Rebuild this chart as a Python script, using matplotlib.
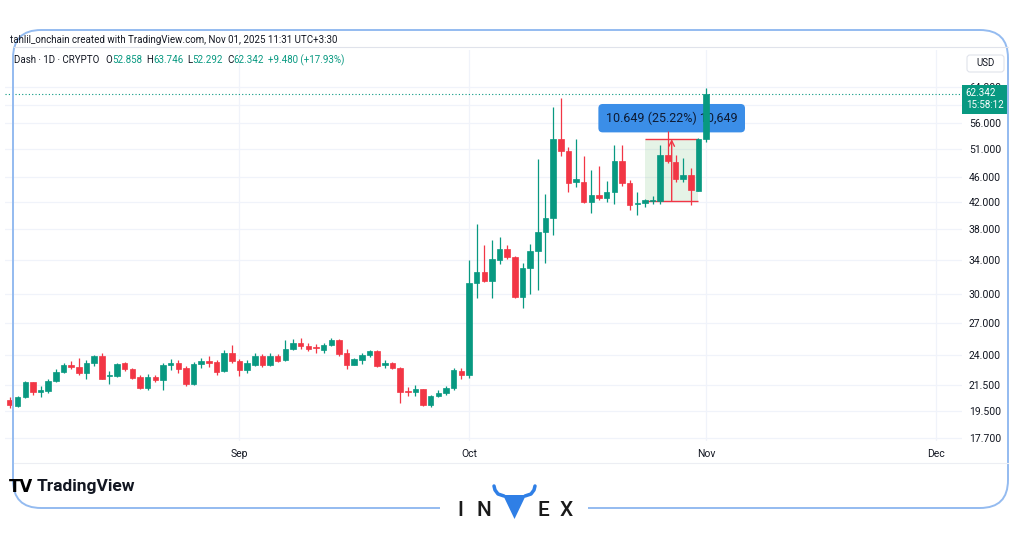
import numpy as np
import pandas as pd
import matplotlib
matplotlib.use("Agg")
import matplotlib.pyplot as plt
import matplotlib.dates as mdates
import matplotlib.transforms as mtransforms
from matplotlib.patches import FancyBboxPatch, Rectangle, Polygon
from matplotlib.ticker import NullLocator

plt.rcParams['font.family'] = ['Roboto', 'DejaVu Sans']

UP = '#089981'
DOWN = '#f23645'
TEXT = '#131722'
GRID = '#f0f3fa'
FRAME = '#94bbf0'

# Dash / USD daily candles (CRYPTO), 2 Aug - 1 Nov 2025
dates = pd.date_range('2025-08-02', periods=92, freq='D')
opens = [20.33, 19.93, 20.55, 21.70, 20.97, 21.00, 21.80, 22.50, 23.14, 22.95,
         22.45, 23.30, 23.85, 22.22, 22.20, 23.25, 22.80, 22.15, 21.22, 22.15,
         21.88, 23.12, 23.25, 22.85, 21.58, 23.17, 23.49, 23.40, 22.60, 24.19,
         23.49, 22.70, 23.10, 23.90, 23.15, 23.90, 23.55, 24.50, 25.04, 24.80,
         24.65, 24.43, 24.85, 25.34, 24.20, 23.15, 23.55, 24.00, 24.30, 23.10,
         23.25, 22.85, 21.00, 20.97, 21.14, 19.96, 20.60, 20.90, 21.25, 22.60,
         22.30, 31.20, 32.50, 31.45, 34.00, 35.35, 34.40, 29.70, 33.00, 35.05,
         37.60, 39.55, 53.00, 50.60, 45.20, 45.24, 42.00, 43.10, 42.60, 43.60,
         48.80, 45.05, 41.65, 41.90, 42.22, 42.20, 49.90, 48.60, 45.65, 46.40,
         43.80, 52.858]
highs = [20.55, 20.63, 21.80, 21.75, 21.38, 21.97, 22.82, 23.30, 23.49, 23.70,
         23.55, 23.95, 24.15, 22.65, 23.30, 23.35, 22.85, 22.30, 22.35, 22.30,
         23.25, 23.60, 23.55, 23.00, 23.35, 23.70, 23.90, 23.55, 24.40, 24.90,
         23.60, 23.55, 24.15, 24.05, 24.20, 24.05, 25.35, 25.40, 25.50, 25.10,
         24.98, 25.04, 25.50, 25.40, 24.50, 23.75, 24.15, 24.45, 24.45, 23.55,
         23.35, 22.93, 21.35, 21.50, 21.18, 20.70, 21.09, 21.38, 22.83, 22.83,
         34.00, 38.70, 35.90, 36.60, 36.95, 35.90, 34.50, 33.55, 36.00, 49.20,
         43.20, 59.40, 61.40, 51.40, 52.90, 49.80, 47.30, 48.00, 45.30, 51.80,
         51.80, 45.60, 43.60, 42.50, 42.90, 51.80, 54.40, 49.90, 49.30, 47.60,
         53.10, 63.746]
lows = [19.74, 19.85, 20.50, 20.70, 20.55, 20.90, 21.70, 22.45, 22.80, 22.30,
        22.00, 23.00, 21.95, 21.55, 22.15, 22.65, 22.00, 21.15, 21.10, 21.75,
        21.10, 22.70, 22.45, 21.42, 21.50, 22.90, 22.95, 22.30, 22.50, 23.25,
        22.20, 22.45, 23.00, 22.98, 23.07, 23.40, 23.50, 24.40, 24.50, 24.30,
        24.15, 24.15, 24.77, 23.90, 22.80, 23.10, 23.20, 23.80, 22.95, 22.90,
        22.76, 20.15, 20.63, 20.60, 19.88, 19.83, 20.55, 20.70, 21.10, 21.95,
        22.05, 29.60, 31.30, 29.60, 33.50, 34.10, 29.60, 28.50, 30.00, 30.40,
        33.60, 37.20, 49.70, 43.50, 44.35, 41.90, 40.30, 42.30, 42.00, 41.70,
        44.60, 40.80, 40.00, 41.30, 41.70, 41.70, 48.40, 45.20, 45.20, 41.50,
        43.70, 52.292]
closes = [19.96, 20.55, 21.70, 20.93, 21.09, 21.84, 22.50, 23.14, 22.95, 22.45,
          23.30, 23.85, 22.00, 22.30, 23.20, 22.75, 22.05, 21.22, 22.15, 21.88,
          23.10, 23.25, 22.80, 21.58, 23.17, 23.49, 23.30, 22.57, 24.19, 23.49,
          22.70, 23.27, 23.90, 23.10, 23.90, 23.50, 24.50, 25.04, 24.80, 24.50,
          24.57, 24.90, 25.34, 24.10, 23.15, 23.60, 24.00, 24.30, 23.02, 23.25,
          22.83, 20.97, 20.92, 21.14, 19.96, 20.60, 20.90, 21.25, 22.66, 22.30,
          31.20, 32.50, 31.45, 34.10, 35.35, 34.40, 29.70, 33.00, 35.05, 37.60,
          39.55, 53.00, 50.60, 45.10, 45.65, 42.00, 43.10, 42.55, 43.60, 48.80,
          45.05, 41.60, 41.90, 42.30, 42.30, 49.90, 48.75, 45.65, 46.40, 43.90,
          52.86, 62.342]

# 60.000 sits under the last-price tag, so it gets a grid line but no label
price_ticks = [17.7, 19.5, 21.5, 24.0, 27.0, 30.0, 34.0, 38.0, 42.0, 46.0,
               51.0, 56.0, 60.0, 64.0]
hidden_ticks = [60.0]
month_ticks = pd.to_datetime(['2025-09-01', '2025-10-01', '2025-11-01', '2025-12-01'])
month_labels = ['Sep', 'Oct', 'Nov', 'Dec']

# price range drawing
measure_from = 42.220
measure_to = 52.869
measure_start = pd.Timestamp('2025-10-24')
measure_end = pd.Timestamp('2025-10-31')

title_line = 'tahlil_onchain created with TradingView.com, Nov 01, 2025 11:31 UTC+3:30'
symbol_line = 'Dash \u00b7 1D \u00b7 CRYPTO'
last_time = '15:58:12'

W, H = 1024, 538
fig = plt.figure(figsize=(W / 100, H / 100), dpi=100)
fig.patch.set_facecolor('white')

ax = fig.add_axes([5 / W, 1 - 441 / H, (962 - 5) / W, (441 - 50) / H])
ax.set_facecolor('white')

x = mdates.date2num(dates)
o = np.array(opens)
h = np.array(highs)
l = np.array(lows)
c = np.array(closes)
colors = np.where(c >= o, UP, DOWN)

ax.vlines(x, l, h, colors=colors, lw=0.9, zorder=4)
body_lo = np.minimum(o, c)
body_hi = np.maximum(o, c)
ax.bar(x, body_hi - body_lo, bottom=body_lo, width=0.72, color=colors,
       edgecolor=colors, linewidth=0.5, zorder=5)

ax.set_yscale('log')
ax.set_ylim(17.5, 73.3)
ax.set_xlim(x[0] - 0.65, x[0] + 124.45)
ax.yaxis.set_minor_locator(NullLocator())
ax.xaxis.set_minor_locator(NullLocator())
ax.yaxis.tick_right()
ax.set_yticks(price_ticks)
ax.set_yticklabels(['' if v in hidden_ticks else f'{v:.3f}' for v in price_ticks])
ax.set_xticks(mdates.date2num(month_ticks))
ax.set_xticklabels(month_labels)
ax.tick_params(axis='both', length=0, labelsize=7.5, labelcolor=TEXT)
ax.tick_params(axis='y', pad=5)
ax.tick_params(axis='x', pad=6)
ax.grid(True, color=GRID, lw=0.9, zorder=0)
ax.set_axisbelow(True)
for s in ax.spines.values():
    s.set_visible(False)

# last price line + label
ax.axhline(closes[-1], color=UP, lw=0.8, ls=(0, (1, 2)), zorder=3)
off = mtransforms.offset_copy(ax.get_yaxis_transform(), fig=fig, x=0, y=-5, units='dots')
ax.text(1.004, closes[-1], f'{closes[-1]:.3f}\n{last_time}', transform=off,
        ha='left', va='center', fontsize=7, color='white', linespacing=1.25,
        bbox=dict(boxstyle='square,pad=0.35', fc=UP, ec='none'),
        clip_on=False, zorder=10)

# price range tool
xm0 = mdates.date2num(measure_start)
xm1 = mdates.date2num(measure_end)
xmid = (xm0 + xm1) / 2
ax.add_patch(Rectangle((xm0, measure_from), xm1 - xm0, measure_to - measure_from,
                       fc='#4caf50', alpha=0.14, ec='none', zorder=2))
ax.hlines([measure_from, measure_to], xm0, xm1, colors=DOWN, lw=1, zorder=3)
ax.annotate('', xy=(xmid, measure_to), xytext=(xmid, measure_from),
            arrowprops=dict(arrowstyle='->', color=DOWN, lw=1, shrinkA=0, shrinkB=0),
            zorder=3)
diff = measure_to - measure_from
pct = diff / measure_from * 100
ax.text(xmid, measure_to * 1.08, f'{diff:.3f} ({pct:.2f}%) {diff * 1000:,.0f}',
        ha='center', va='center', fontsize=9, color='#0e1b33',
        bbox=dict(boxstyle='round,pad=0.6,rounding_size=0.35', fc='#3b8ee8', ec='none'),
        zorder=3)

# overlay in pixel units for the frame, header and logos
ov = fig.add_axes([0, 0, 1, 1], zorder=20)
ov.set_xlim(0, W)
ov.set_ylim(H, 0)
ov.axis('off')
ov.patch.set_alpha(0)

ov.plot([14, 1008], [47, 47], color='#e0e3eb', lw=0.8)
ov.plot([14, 1008], [463, 463], color='#eceef3', lw=0.8)
ov.text(10, 40, title_line, fontsize=7, color=TEXT, va='center')

r = fig.canvas.get_renderer()
cx = 14
parts = [(symbol_line, TEXT, 6), ('O', TEXT, 0), ('52.858', UP, 4), ('H', TEXT, 0),
         ('63.746', UP, 4), ('L', TEXT, 0), ('52.292', UP, 4), ('C', TEXT, 0),
         ('62.342', UP, 4), ('+9.480 (+17.93%)', UP, 0)]
for s, col, gap in parts:
    t = ov.text(cx, 60, s, fontsize=7, color=col, va='center')
    cx += t.get_window_extent(renderer=r).width + gap

# USD box
ov.add_patch(FancyBboxPatch((967, 55), 37, 17, boxstyle='round,pad=0,rounding_size=3',
                            fc='white', ec='#e0e3eb', lw=0.8))
ov.text(985.5, 63.5, 'USD', fontsize=7, color=TEXT, ha='center', va='center')

# outer frame
ov.add_patch(FancyBboxPatch((13, 30), 995, 478, boxstyle='round,pad=0,rounding_size=28',
                            fc='none', ec=FRAME, lw=1.4))
ov.add_patch(Rectangle((440, 499), 148, 18, fc='white', ec='none'))

# TradingView logo
ov.text(9, 487, 'TV', fontsize=12, fontweight='heavy', color='black', va='center',
        family=['DejaVu Sans'])
ov.text(37, 487, 'TradingView', fontsize=12.5, fontweight='bold', color='#131722',
        va='center')

# INVEX logo
for ch, px in [('I', 460), ('N', 484), ('E', 543), ('X', 566)]:
    ov.text(px, 511, ch, fontsize=15, fontweight='medium', color='#1a1a1a',
            ha='center', va='center')
ov.add_patch(Polygon([(503, 495), (526, 495), (514.5, 519)], closed=True,
                     fc='#2f7fe6', ec='none'))
ov.plot([504, 498, 495, 494], [496, 494, 490, 486], color='#2f7fe6', lw=2.5,
        solid_capstyle='round')
ov.plot([525, 531, 534, 535], [496, 494, 490, 486], color='#2f7fe6', lw=2.5,
        solid_capstyle='round')

fig.savefig('out.png', dpi=100, facecolor='white')
